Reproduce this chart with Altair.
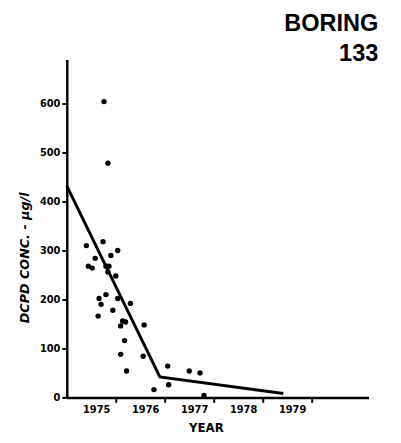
import altair as alt
import pandas as pd

# Measured DCPD concentrations (ug/l) by sampling date (decimal year)
pt_year = [1975.76, 1975.84, 1975.40, 1975.74, 1976.04, 1975.90, 1975.58, 1975.44,
           1975.52, 1975.80, 1975.86, 1975.84, 1976.00, 1975.66, 1975.80, 1975.70,
           1976.04, 1976.30, 1975.94, 1975.64, 1976.14, 1976.20, 1976.10, 1976.58,
           1976.18, 1976.10, 1976.56, 1976.22, 1976.78, 1977.06, 1977.08, 1977.50,
           1977.72, 1977.80]
pt_conc = [604, 478, 310, 318, 300, 290, 284, 268,
           264, 268, 268, 256, 248, 202, 210, 190,
           202, 192, 178, 166, 156, 154, 146, 148,
           116, 88, 84, 54, 16, 64, 26, 54,
           50, 4]

# Hand-drawn trend line
fit_year = [1975.0, 1976.9, 1979.42]
fit_conc = [432, 42, 8]

x_tick_years = [1976, 1977, 1978, 1979, 1980]
y_tick_values = [0, 100, 200, 300, 400, 500, 600]

pts = pd.DataFrame({"year": pt_year, "conc": pt_conc})
fit = pd.DataFrame({"year": fit_year, "conc": fit_conc})

xs = alt.Scale(domain=[1975, 1981.16], nice=False, zero=False)
ys = alt.Scale(domain=[0, 690], nice=False, zero=True)

x_axis = alt.Axis(
    values=x_tick_years,
    labelExpr="toString(datum.value - 1)",
    labelOffset=-20,
    tickSize=5,
    labelPadding=2,
    labelFontSize=10,
    labelFontWeight="bold",
    title="YEAR",
    titleFontSize=12,
    titleFontWeight="bold",
    titlePadding=9,
    titleX=142,
    grid=False,
)
y_axis = alt.Axis(
    values=y_tick_values,
    format="d",
    tickSize=5,
    labelPadding=2,
    labelFontSize=10,
    labelFontWeight="bold",
    title="DCPD CONC. - µg/l",
    titleFontSize=13,
    titleFontWeight="bold",
    titleFontStyle="italic",
    titleX=-43,
    titleY=202,
    titleAlign="center",
    titleBaseline="middle",
    titleAngle=270,
    grid=False,
)

points = alt.Chart(pts).mark_circle(size=30, color="black", opacity=1).encode(
    x=alt.X("year:Q", scale=xs, axis=x_axis),
    y=alt.Y("conc:Q", scale=ys, axis=y_axis),
)
line = alt.Chart(fit).mark_line(color="black", strokeWidth=3).encode(
    x=alt.X("year:Q", scale=xs),
    y=alt.Y("conc:Q", scale=ys),
)

chart = (
    alt.layer(line, points)
    .properties(
        width=308,
        height=345,
        autosize=alt.AutoSizeParams(type="none"),
        padding={"left": 60, "top": 48, "right": 25, "bottom": 42},
        title=alt.TitleParams(
            text="BORING",
            subtitle="133",
            anchor="end",
            font="Liberation Sans",
            subtitleFont="Liberation Sans",
            fontSize=24,
            subtitleFontSize=24,
            fontWeight="bold",
            subtitleFontWeight="bold",
            color="black",
            subtitleColor="black",
            subtitlePadding=7,
            offset=-7,
            dx=10,
        ),
    )
    .configure_view(stroke=None)
    .configure_axis(
        domainColor="black",
        domainWidth=2.5,
        tickColor="black",
        tickWidth=2,
        labelColor="black",
        titleColor="black",
        labelFont="DejaVu Sans",
        titleFont="DejaVu Sans",
    )
)

chart.save("out.html", embed_options={"renderer": "svg", "actions": False})
